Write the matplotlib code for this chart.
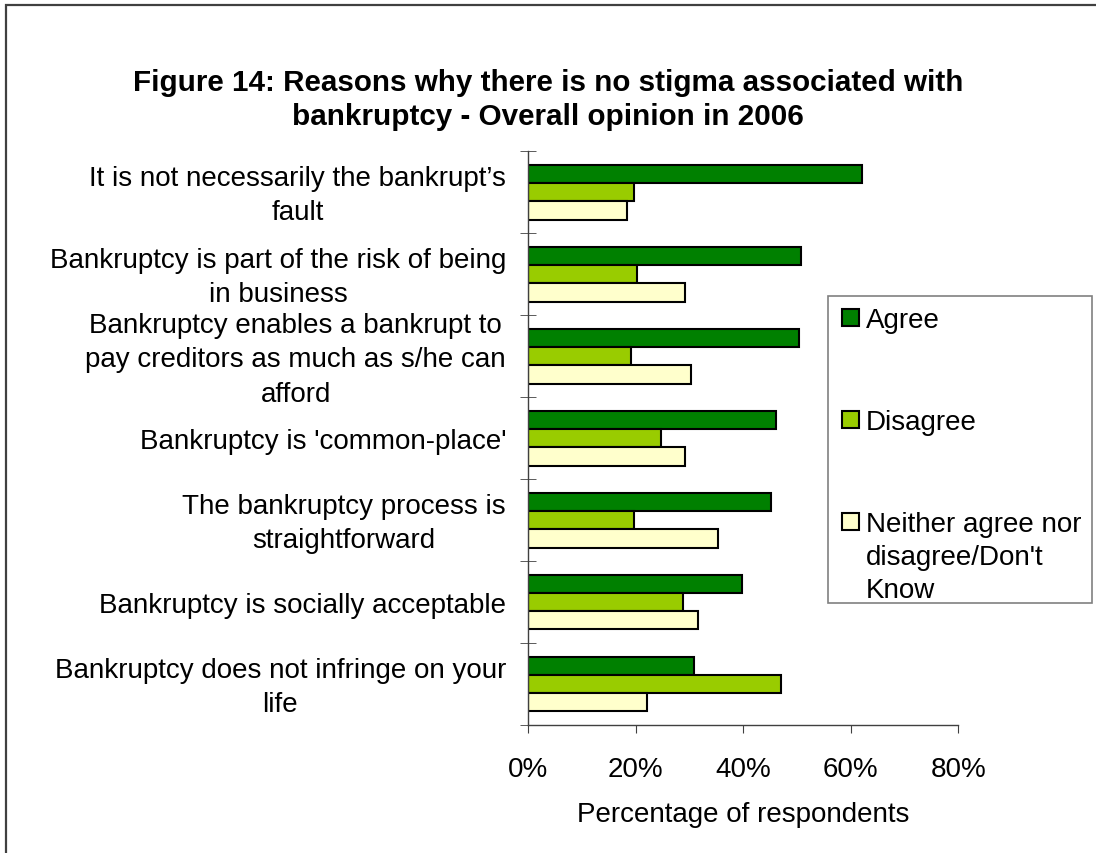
import matplotlib as mpl
mpl.use('Agg')
import matplotlib.pyplot as plt
from matplotlib.patches import Rectangle
from matplotlib.ticker import PercentFormatter, FixedLocator
from matplotlib.transforms import ScaledTranslation

# data (percent of respondents)
categories = [
    "It is not necessarily the bankrupt\u2019s\nfault",
    "Bankruptcy is part of the risk of being\nin business",
    "Bankruptcy enables a bankrupt to\npay creditors as much as s/he can\nafford",
    "Bankruptcy is 'common-place'",
    "The bankruptcy process is\nstraightforward",
    "Bankruptcy is socially acceptable",
    "Bankruptcy does not infringe on your\nlife",
]
agree = [62.0, 50.7, 50.4, 46.1, 45.2, 39.7, 30.9]
disagree = [19.7, 20.2, 19.2, 24.6, 19.7, 28.7, 47.0]
neither = [18.3, 29.1, 30.3, 29.2, 35.2, 31.6, 22.1]
series_names = ["Agree", "Disagree", "Neither agree nor\ndisagree/Don't\nKnow"]
series_colors = ["#008000", "#99CC00", "#FFFFCC"]

plt.rcParams['font.family'] = ['Liberation Sans', 'DejaVu Sans']

W, H = 1096, 854
fig = plt.figure(figsize=(W / 100, H / 100), dpi=100)

# outer chart border (cut off on the right and bottom in the original)
fig.patches.append(Rectangle((6 / W, -0.1), 1.2, 1 - 6 / H + 0.1, transform=fig.transFigure,
                             fill=False, edgecolor='#404040', linewidth=1.6))

ax = fig.add_axes([528.3 / W, 1 - 726 / H, 430 / W, 573.7 / H])

bar_h = 0.223
ypos = list(range(len(categories)))
for k, (vals, col, name) in enumerate(zip([agree, disagree, neither], series_colors, series_names)):
    ax.barh([y + (k - 1) * bar_h for y in ypos], vals, height=bar_h, color=col,
            edgecolor='black', linewidth=1.5, label=name)

ax.set_xlim(0, 80)
ax.set_ylim(len(categories) - 0.5, -0.5)
ax.xaxis.set_major_locator(FixedLocator([0, 20, 40, 60, 80]))
ax.xaxis.set_major_formatter(PercentFormatter(decimals=0))
ax.set_yticks(ypos)
ax.set_yticklabels(categories, multialignment='center', linespacing=1.42)
ax.yaxis.set_minor_locator(FixedLocator([y - 0.5 for y in range(len(categories) + 1)]))

for s in ['top', 'right']:
    ax.spines[s].set_visible(False)
for s in ['left', 'bottom']:
    ax.spines[s].set_color('#404040')
    ax.spines[s].set_linewidth(1.0)

ax.tick_params(axis='y', which='major', length=0, pad=16, labelsize=20)
ax.tick_params(axis='y', which='minor', direction='inout', length=12, color='#404040')
ax.tick_params(axis='x', which='major', direction='out', length=6, pad=16, labelsize=20,
               color='#404040')
ax.set_xlabel("Percentage of respondents", fontsize=20, labelpad=14)

# centre multi-line labels on the category, nudged a few pixels down
nudge = ScaledTranslation(0, -3 / 100, fig.dpi_scale_trans)
for lbl in ax.get_yticklabels():
    lbl.set_verticalalignment('center')
    lbl.set_transform(lbl.get_transform() + nudge)

fig.text(0.5, 1 - 100 / H, "Figure 14: Reasons why there is no stigma associated with\n"
         "bankruptcy - Overall opinion in 2006", ha='center', va='center',
         fontsize=21.3, fontweight='bold', linespacing=1.3)

# legend box drawn by hand so the handle lines up with the first text line
fig.patches.append(Rectangle((827.5 / W, 1 - 603.5 / H), 264 / W, 306.5 / H,
                             transform=fig.transFigure, facecolor='white',
                             edgecolor='#808080', linewidth=1.2))
legend_y = [318, 420, 522]
for name, col, ly in zip(series_names, series_colors, legend_y):
    fig.patches.append(Rectangle((842 / W, 1 - (ly + 8.5) / H), 17 / W, 17 / H,
                                 transform=fig.transFigure, facecolor=col,
                                 edgecolor='black', linewidth=1.5))
    fig.text(866 / W, 1 - (ly - 10) / H, name, ha='left', va='top', fontsize=20,
             linespacing=1.36)

fig.savefig('out.png', dpi=100)
